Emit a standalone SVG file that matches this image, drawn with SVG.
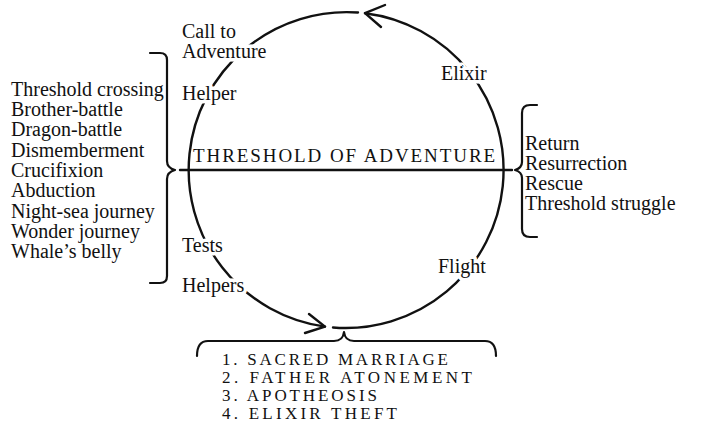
<svg xmlns="http://www.w3.org/2000/svg" width="720" height="430" viewBox="0 0 720 430">
  <style>
    .ln { fill: none; stroke: #111; stroke-width: 2.4; stroke-linecap: round; stroke-linejoin: round; }
    .br { fill: none; stroke: #111; stroke-width: 2.2; stroke-linecap: round; stroke-linejoin: round; }
    text { font-family: "Liberation Serif", "Times New Roman", serif; fill: #111; }
    .t { font-size: 20px; }
    .halo { font-size: 20px; stroke: #fff; stroke-width: 7; paint-order: stroke; stroke-linejoin: round; }
    .caps { font-size: 19px; letter-spacing: 1.9px; }
    .stage { font-size: 17px; }
  </style>
  <rect width="720" height="430" fill="#fff"/>

  <g id="connectors">
    <!-- threshold line -->
    <line class="ln" x1="180" y1="170" x2="512" y2="170"/>
    <!-- descending (left) half of the cycle -->
    <path class="ln" d="M358,12.5 A158,158 0 0 0 325,326.6"/>
    <polyline class="ln" points="309,314 325,326.6 305,333"/>
    <!-- ascending (right) half of the cycle -->
    <path class="ln" d="M333,327.5 A158,158 0 0 0 365,13.2"/>
    <polyline class="ln" points="385,5 365,13.2 381,27"/>
  </g>

  <g id="threshold-label">
    <text class="caps" x="193" y="162" textLength="304" lengthAdjust="spacing">THRESHOLD OF ADVENTURE</text>
  </g>

  <g id="call-to-adventure">
    <text class="halo" x="182" y="38">Call to</text>
    <text class="halo" x="182" y="58">Adventure</text>
  </g>
  <g id="helper">
    <text class="halo" x="182" y="100">Helper</text>
  </g>
  <g id="tests">
    <text class="halo" x="182" y="252">Tests</text>
  </g>
  <g id="helpers">
    <text class="halo" x="182" y="292">Helpers</text>
  </g>
  <g id="elixir">
    <text class="halo" x="441" y="80">Elixir</text>
  </g>
  <g id="flight">
    <text class="halo" x="438" y="273">Flight</text>
  </g>

  <g id="separation-list">
    <path class="br" d="M150,53 L160,53 Q167,53 167,60 L167,161 Q167,168 175,170 Q167,172 167,179 L167,276 Q167,283 160,283 L150,283"/>
    <text class="t" x="11" y="96">Threshold crossing</text>
    <text class="t" x="11" y="116">Brother-battle</text>
    <text class="t" x="11" y="136">Dragon-battle</text>
    <text class="t" x="11" y="157">Dismemberment</text>
    <text class="t" x="11" y="177">Crucifixion</text>
    <text class="t" x="11" y="197">Abduction</text>
    <text class="t" x="11" y="218">Night-sea journey</text>
    <text class="t" x="11" y="238">Wonder journey</text>
    <text class="t" x="11" y="258">Whale’s belly</text>
  </g>

  <g id="return-list">
    <path class="br" d="M537,105 L530,105 Q522,105 522,113 L522,162 Q522,168 515,170 Q522,172 522,178 L522,229 Q522,237 530,237 L537,237"/>
    <text class="t" x="525" y="150">Return</text>
    <text class="t" x="525" y="170">Resurrection</text>
    <text class="t" x="525" y="190">Rescue</text>
    <text class="t" x="525" y="210">Threshold struggle</text>
  </g>

  <g id="initiation-list">
    <path class="br" d="M197,356 Q197,341 208,341 L334,341 Q343,341 344,332 Q345,341 354,341 L485,341 Q496,341 496,356"/>
    <text class="stage" x="222" y="365" textLength="226" lengthAdjust="spacing">1. SACRED MARRIAGE</text>
    <text class="stage" x="222" y="383" textLength="250" lengthAdjust="spacing">2. FATHER ATONEMENT</text>
    <text class="stage" x="222" y="401" textLength="155" lengthAdjust="spacing">3. APOTHEOSIS</text>
    <text class="stage" x="222" y="419" textLength="175" lengthAdjust="spacing">4. ELIXIR THEFT</text>
  </g>
</svg>
